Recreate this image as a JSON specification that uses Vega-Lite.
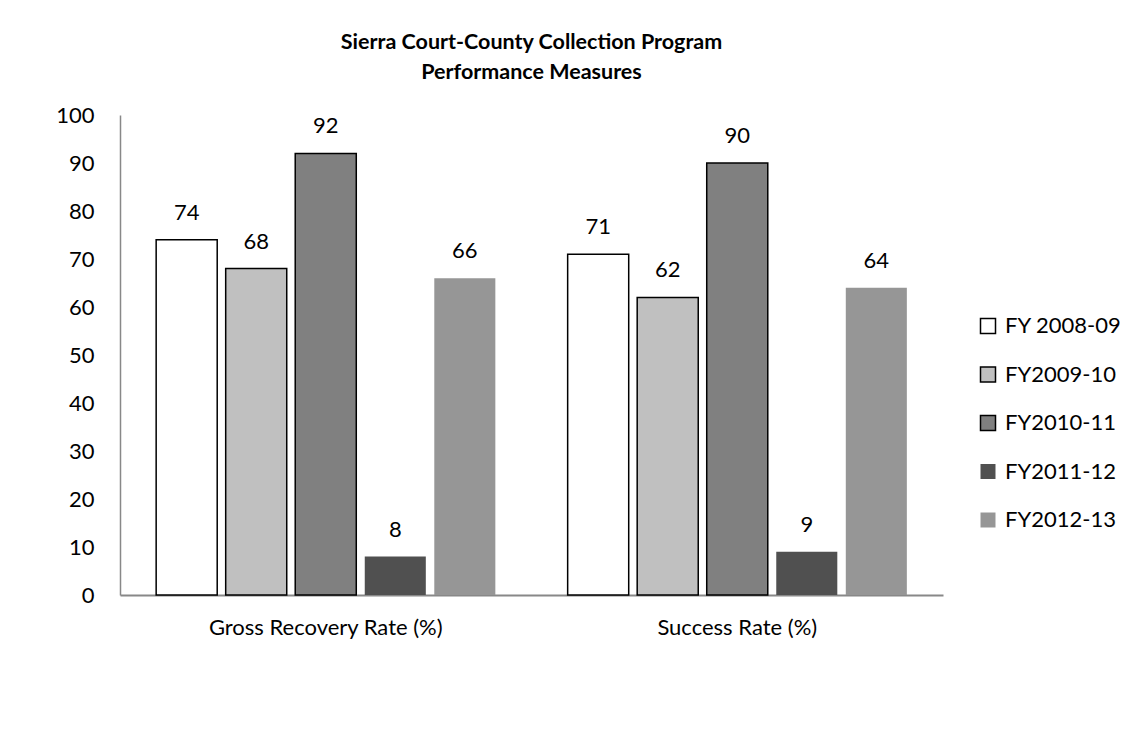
{
  "$schema": "https://vega.github.io/schema/vega-lite/v6.json",
  "width": 823,
  "height": 480,
  "autosize": {"type": "none"},
  "padding": {"left": 120, "top": 115, "right": 193, "bottom": 144},
  "background": "white",
  "config": {
    "view": {"stroke": null},
    "font": "Lato",
    "text": {"font": "Lato"}
  },
  "title": {
    "text": ["Sierra Court-County Collection Program", "Performance Measures"],
    "font": "Lato",
    "fontSize": 21.5,
    "fontWeight": "bold",
    "color": "black",
    "anchor": "middle",
    "offset": 21,
    "lineHeight": 30
  },
  "data": {
    "values": [
      {"measure": "Gross Recovery Rate (%)", "year": "FY 2008-09", "value": 74},
      {"measure": "Gross Recovery Rate (%)", "year": "FY2009-10", "value": 68},
      {"measure": "Gross Recovery Rate (%)", "year": "FY2010-11", "value": 92},
      {"measure": "Gross Recovery Rate (%)", "year": "FY2011-12", "value": 8},
      {"measure": "Gross Recovery Rate (%)", "year": "FY2012-13", "value": 66},
      {"measure": "Success Rate (%)", "year": "FY 2008-09", "value": 71},
      {"measure": "Success Rate (%)", "year": "FY2009-10", "value": 62},
      {"measure": "Success Rate (%)", "year": "FY2010-11", "value": 90},
      {"measure": "Success Rate (%)", "year": "FY2011-12", "value": 9},
      {"measure": "Success Rate (%)", "year": "FY2012-13", "value": 64}
    ]
  },
  "encoding": {
    "x": {
      "field": "measure",
      "type": "nominal",
      "sort": ["Gross Recovery Rate (%)", "Success Rate (%)"],
      "scale": {"paddingInner": 0, "paddingOuter": 0},
      "axis": {
        "title": null,
        "labelAngle": 0,
        "labelFont": "Lato",
        "labelFontSize": 22,
        "labelColor": "black",
        "labelPadding": 22,
        "labelLimit": 400,
        "ticks": false,
        "domainColor": "#888888",
        "domainWidth": 2
      }
    },
    "xOffset": {
      "field": "year",
      "type": "nominal",
      "sort": ["FY 2008-09", "FY2009-10", "FY2010-11", "FY2011-12", "FY2012-13"],
      "scale": {"paddingInner": 0.122, "paddingOuter": 0.52}
    },
    "y": {
      "field": "value",
      "type": "quantitative",
      "scale": {"domain": [0, 100]},
      "axis": {
        "title": null,
        "values": [0, 10, 20, 30, 40, 50, 60, 70, 80, 90, 100],
        "labelOverlap": false,
        "grid": false,
        "ticks": false,
        "labelFont": "Lato",
        "labelFontSize": 22,
        "labelColor": "black",
        "labelPadding": 26,
        "domainColor": "#888888",
        "domainWidth": 1.5
      }
    }
  },
  "layer": [
    {
      "mark": {"type": "bar", "strokeWidth": 1.5},
      "encoding": {
        "fill": {
          "field": "year",
          "type": "nominal",
          "sort": ["FY 2008-09", "FY2009-10", "FY2010-11", "FY2011-12", "FY2012-13"],
          "scale": {"range": ["#ffffff", "#c0c0c0", "#808080", "#505050", "#969696"]},
          "legend": {
            "title": null,
            "orient": "none",
            "legendX": 857,
            "legendY": 200,
            "padding": 0,
            "symbolType": "square",
            "symbolSize": 225,
            "symbolStrokeWidth": 1.5,
            "labelFont": "Lato",
            "labelFontSize": 22,
            "labelColor": "black",
            "labelOffset": 6,
            "rowPadding": 26.5,
            "labelLimit": 300,
            "encode": {
              "symbols": {
                "update": {
                  "stroke": {"signal": "indexof(['FY 2008-09','FY2009-10','FY2010-11'], datum.value) >= 0 ? 'black' : 'transparent'"},
                  "fillOpacity": {"value": 1}
                }
              }
            }
          }
        },
        "stroke": {
          "field": "year",
          "type": "nominal",
          "sort": ["FY 2008-09", "FY2009-10", "FY2010-11", "FY2011-12", "FY2012-13"],
          "scale": {"range": ["#000000", "#000000", "#000000", "transparent", "transparent"]},
          "legend": null
        }
      }
    },
    {
      "mark": {"type": "text", "baseline": "bottom", "dy": -15, "font": "Lato", "fontSize": 22, "color": "black"},
      "encoding": {
        "text": {"field": "value", "type": "quantitative"}
      }
    }
  ]
}
